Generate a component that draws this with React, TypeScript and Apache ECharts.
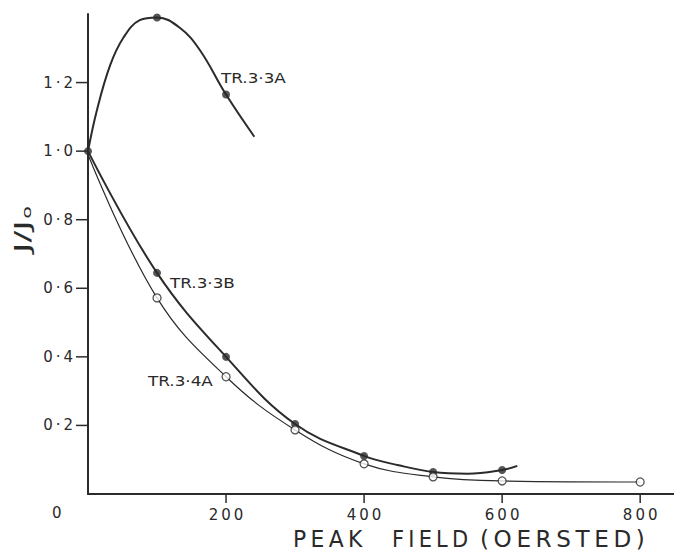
import React, { useEffect, useRef } from "react";
import * as echarts from "echarts";

// TR.3·3A curve (filled dots at measured points)
const curveA: number[][] = [
  [0, 1.0], [13, 1.12], [32, 1.25], [51, 1.33], [75, 1.382], [100, 1.39],
  [133, 1.36], [162, 1.295], [200, 1.165], [241, 1.042],
];
const pointsA: number[][] = [[0, 1.0], [100, 1.39], [200, 1.165]];

// TR.3·3B curve (filled dots)
const curveB: number[][] = [
  [0, 1.0], [100, 0.645], [200, 0.4], [300, 0.204], [400, 0.111], [450, 0.084],
  [500, 0.064], [550, 0.059], [600, 0.07], [622, 0.082],
];
const pointsB: number[][] = [
  [100, 0.645], [200, 0.4], [300, 0.204], [400, 0.111], [500, 0.064], [600, 0.07],
];

// TR.3·4A curve (open circles)
const curveC: number[][] = [
  [0, 0.99], [100, 0.572], [200, 0.342], [300, 0.187], [400, 0.088],
  [500, 0.05], [600, 0.038], [800, 0.035],
];
const pointsC: number[][] = [
  [100, 0.572], [200, 0.342], [300, 0.187], [400, 0.088], [500, 0.05], [600, 0.038], [800, 0.035],
];

const xTicks = [200, 400, 600, 800];
const yTicks = [0.2, 0.4, 0.6, 0.8, 1.0, 1.2];
const yTickLabels: Record<string, string> = {
  "0.2": "0·2", "0.4": "0·4", "0.6": "0·6", "0.8": "0·8", "1": "1·0", "1.2": "1·2",
};
const xTitleWords = ["PEAK", "FIELD", "(OERSTED)"];

const INK = "#2b2b2b";
const TEXT = "#2a2a2a";
const FONT = "DejaVu Sans";

export default function App() {
  const ref = useRef<HTMLDivElement>(null);
  useEffect(() => {
    if (!ref.current) return;
    const chart = echarts.init(ref.current, undefined, { renderer: "svg" });
    const thin = (s: string) => s.split("").join("\u2009");
    const titleX = [293, 392, 480];
    const titleScaleX = [1.04, 1.0, 1.1];
    const baseGraphics: any[] = [
      { type: "text", left: 221, top: 71, scaleX: 1.2, style: { text: "TR.3·3A", font: `14px "${FONT}"`, fill: TEXT } },
      { type: "text", left: 170, top: 276, scaleX: 1.2, style: { text: "TR.3·3B", font: `14px "${FONT}"`, fill: TEXT } },
      { type: "text", left: 148, top: 374, scaleX: 1.2, style: { text: "TR.3·4A", font: `14px "${FONT}"`, fill: TEXT } },
      { type: "text", left: 52, top: 505, style: { text: "0", font: `15px "${FONT}"`, fill: TEXT } },
      ...xTitleWords.map((w, i) => ({
        type: "text", x: titleX[i], y: 539, scaleX: titleScaleX[i], scaleY: 1.1,
        style: {
          text: thin(w), font: `21px "${FONT}"`, lineHeight: 21, fill: TEXT,
          verticalAlign: "middle", align: "left",
        },
      })),
      {
        type: "text", x: 11, y: 253, rotation: Math.PI / 2, scaleX: 1.6,
        style: {
          text: "J/J{s|o}",
          font: `22px "${FONT}"`,
          fill: TEXT,
          rich: { s: { fontSize: 13, fontFamily: FONT, padding: [9, 0, 0, 1], fill: TEXT } },
        },
      },
    ];
    chart.setOption({
      animation: false,
      backgroundColor: "#ffffff",
      grid: { left: 88, right: -2, top: 14, bottom: 57 },
      xAxis: {
        type: "value",
        min: 0,
        max: 849,
        axisLine: { show: true, lineStyle: { color: INK, width: 2 } },
        splitLine: { show: false },
        axisTick: { show: false },
        axisLabel: {
          customValues: xTicks,
          margin: 13,
          color: TEXT,
          fontFamily: FONT,
          fontSize: 15,
          formatter: (v: number) => thin(String(v)),
        },
      },
      yAxis: {
        type: "value",
        min: 0,
        max: 1.4,
        axisLine: { show: true, lineStyle: { color: INK, width: 2 } },
        splitLine: { show: false },
        axisTick: { show: false },
        axisLabel: {
          customValues: yTicks,
          margin: 15,
          color: TEXT,
          fontFamily: FONT,
          fontSize: 15,
          formatter: (v: number) => thin(yTickLabels[String(v)] ?? String(v)),
        },
      },
      series: [
        {
          type: "line", data: curveA, smooth: 0.4, showSymbol: false, symbol: "none",
          lineStyle: { color: INK, width: 2 }, z: 2,
        },
        {
          type: "line", data: curveB, smooth: 0.4, showSymbol: false, symbol: "none",
          lineStyle: { color: INK, width: 2 }, z: 2,
        },
        {
          type: "line", data: curveC, smooth: 0.4, showSymbol: false, symbol: "none",
          lineStyle: { color: INK, width: 1.2 }, z: 2,
        },
        {
          type: "scatter", data: pointsA, symbol: "circle", symbolSize: 8,
          itemStyle: { color: INK }, z: 3,
        },
        {
          type: "scatter", data: pointsB, symbol: "circle", symbolSize: 8,
          itemStyle: { color: INK }, z: 3,
        },
        {
          type: "scatter", data: pointsC, symbol: "circle", symbolSize: 8,
          itemStyle: { color: "#ffffff", borderColor: INK, borderWidth: 1.3 }, z: 4,
        },
      ],
      graphic: baseGraphics,
    });
    // axis ticks positioned through the axes' own scales
    const tickLines: any[] = [];
    xTicks.forEach((v) => {
      const p = chart.convertToPixel({ xAxisIndex: 0, yAxisIndex: 0 }, [v, 0]) as number[];
      tickLines.push({
        type: "line", shape: { x1: p[0], y1: p[1], x2: p[0], y2: p[1] + 9 },
        style: { stroke: INK, lineWidth: 1.5 }, z: 10,
      });
    });
    yTicks.forEach((v) => {
      const p = chart.convertToPixel({ xAxisIndex: 0, yAxisIndex: 0 }, [0, v]) as number[];
      tickLines.push({
        type: "line", shape: { x1: p[0] - 12, y1: p[1], x2: p[0], y2: p[1] },
        style: { stroke: INK, lineWidth: 1.5 }, z: 10,
      });
    });
    chart.setOption({ graphic: [...baseGraphics, ...tickLines] });
    return () => chart.dispose();
  }, []);
  return <div ref={ref} style={{ width: 674, height: 551, position: "absolute", left: 0, top: 0 }} />;
}
